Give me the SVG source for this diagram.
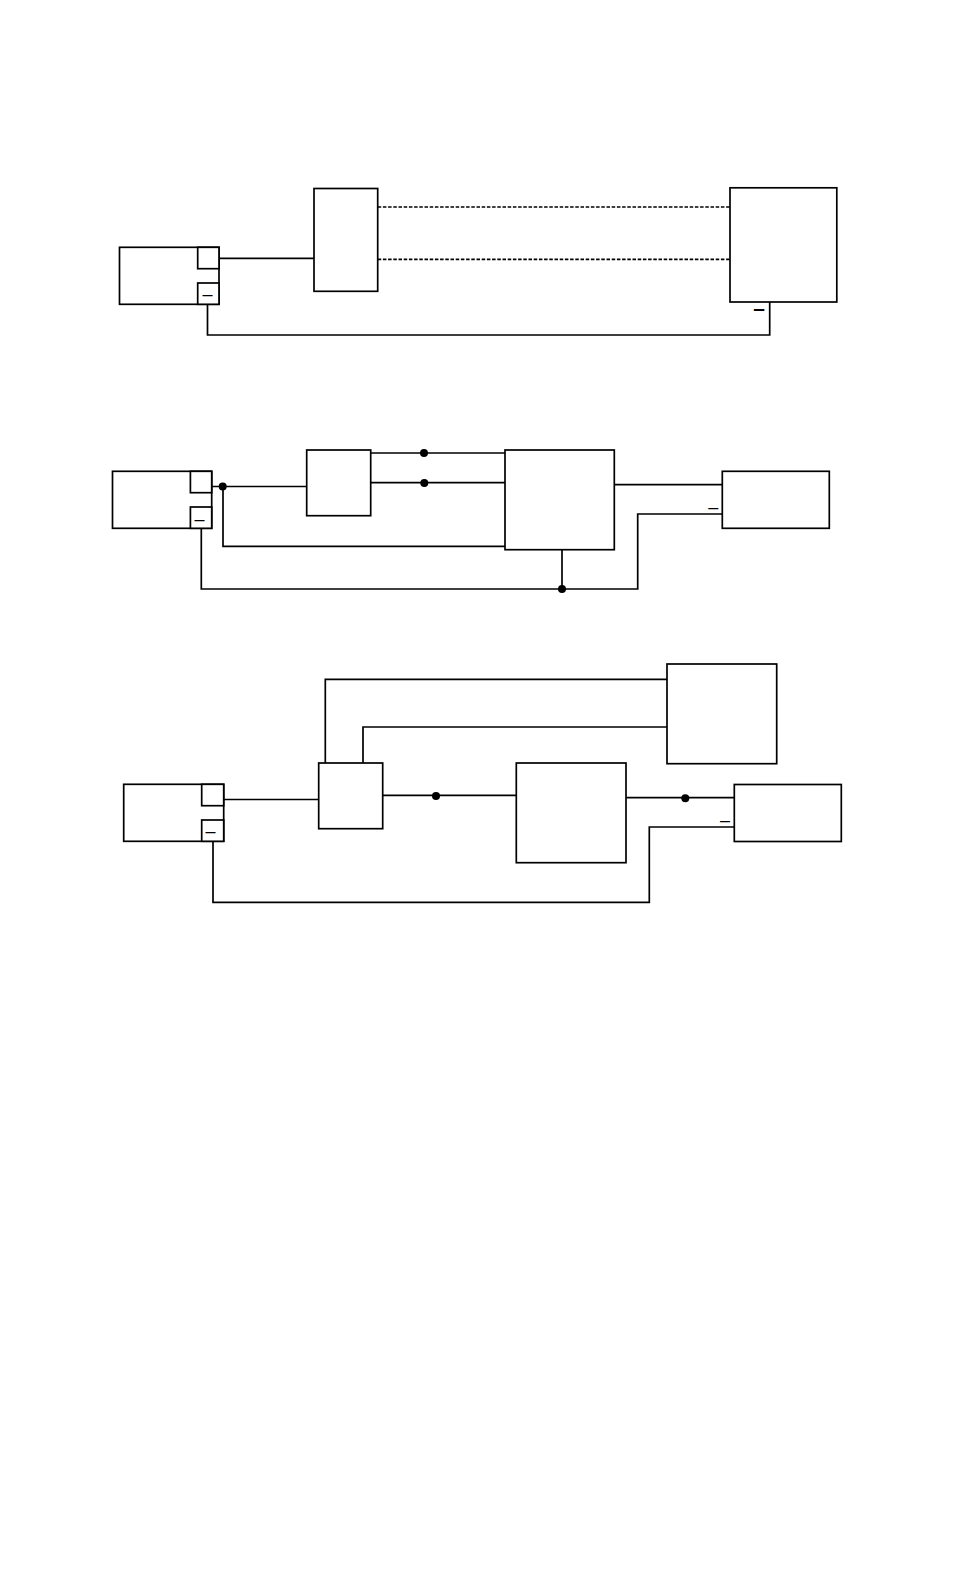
<svg xmlns="http://www.w3.org/2000/svg" width="954" height="1572" viewBox="0 0 954 1572">
<style>
rect{fill:#fff;stroke:#000;stroke-width:1.7}
.c path{fill:none;stroke:#000;stroke-width:1.7}
.c .d{stroke-dasharray:3.5 1.7}
.c circle{fill:#000}
text{font-family:"Liberation Sans",Arial,sans-serif;font-size:18px;text-anchor:middle;fill:#000}
</style>
<rect width="954" height="1572" style="stroke:none"/>
<g id="connectors" class="c">
<path d="M219 258.3H314"/>
<path class="d" d="M377.7 207H730M377.7 259.3H730"/>
<path d="M207.5 304.3V335H769.7V302"/>
<path d="M211.7 486.5H306.7"/>
<path d="M223 486.5V546.3H505"/>
<path d="M370.7 453H505M370.7 482.7H505"/>
<path d="M201.3 528.3V589H637.7V514H722.3"/>
<path d="M562 549.7V589"/>
<path d="M614.3 484.7H722.3"/>
<circle cx="222.7" cy="486.5" r="4"/>
<circle cx="424" cy="453" r="4"/>
<circle cx="424.3" cy="483" r="4"/>
<circle cx="562" cy="589" r="4"/>
<path d="M223.7 799.5H318.7"/>
<path d="M325.3 763V679.3H667"/>
<path d="M363 763V727H667"/>
<path d="M382.7 795.3H516.3"/>
<path d="M626 797.7H734.3"/>
<path d="M213 841.3V902.3H649.3V827H734.3"/>
<circle cx="436" cy="796" r="4"/>
<circle cx="685.3" cy="798.3" r="4"/>
</g>
<g id="source-1"><rect x="119.5" y="247.3" width="99.5" height="57"/><rect x="197.7" y="247.3" width="21.3" height="21.4"/><rect x="197.7" y="283" width="21.3" height="21.3"/><text x="207.5" y="299.5">–</text></g>
<g id="block-1"><rect x="314" y="188.5" width="63.7" height="102.8"/></g>
<g id="load-1"><rect x="730" y="187.8" width="106.8" height="114.2"/><text x="759" y="315" style="font-size:21px;font-weight:bold">–</text></g>
<g id="source-2"><rect x="112.5" y="471.3" width="99.2" height="57"/><rect x="190.4" y="471.3" width="21.3" height="21.4"/><rect x="190.4" y="507" width="21.3" height="21.3"/><text x="199.5" y="524.5">–</text></g>
<g id="block-2"><rect x="306.7" y="450" width="64" height="65.7"/></g>
<g id="controller-2"><rect x="505" y="450" width="109.3" height="99.7"/></g>
<g id="load-2"><rect x="722.3" y="471.3" width="107" height="57"/><text x="713.3" y="513">–</text></g>
<g id="source-3"><rect x="123.7" y="784.3" width="100" height="57"/><rect x="201.7" y="784.3" width="22" height="21.4"/><rect x="201.7" y="820" width="22" height="21.3"/><text x="210.5" y="837">–</text></g>
<g id="block-3"><rect x="318.7" y="763" width="64" height="65.7"/></g>
<g id="upper-3"><rect x="667" y="664" width="109.7" height="99.7"/></g>
<g id="controller-3"><rect x="516.3" y="763" width="109.7" height="99.7"/></g>
<g id="load-3"><rect x="734.3" y="784.5" width="107" height="57"/><text x="725" y="826">–</text></g>
</svg>
